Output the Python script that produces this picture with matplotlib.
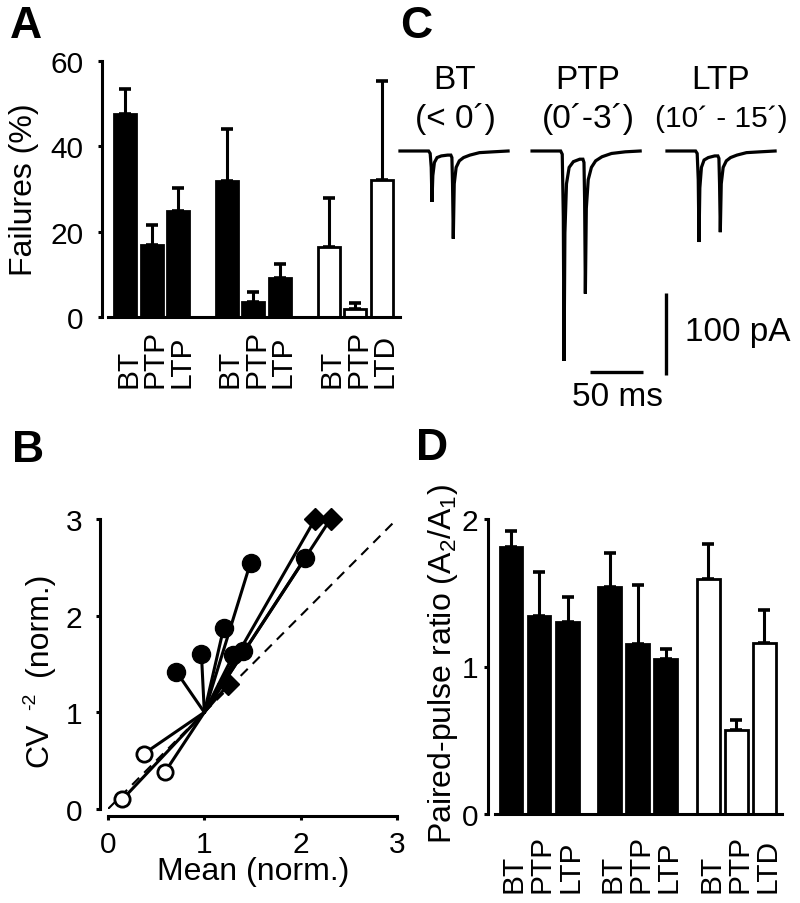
import matplotlib
matplotlib.use('Agg')
import matplotlib.pyplot as plt
from matplotlib.transforms import blended_transform_factory, offset_copy

plt.rcParams['font.family'] = ['Liberation Sans', 'DejaVu Sans']
plt.rcParams['mathtext.fontset'] = 'custom'
plt.rcParams['mathtext.rm'] = 'Liberation Sans'
FS = 23        # axis labels
FS_TICK = 21.5  # tick labels and bar labels
FS_C = 24      # panel C texts

# ---------------- data ----------------
bar_labels_A = ['BT', 'PTP', 'LTP', 'BT', 'PTP', 'LTP', 'BT', 'PTP', 'LTD']
fail_mean = [47.5, 16.8, 24.9, 31.8, 3.5, 9.1, 16.4, 1.9, 32.1]
fail_err = [5.9, 4.7, 5.3, 12.2, 2.3, 3.3, 11.5, 1.4, 23.2]
bar_filled = [True, True, True, True, True, True, False, False, False]

ppr_mean = [1.81, 1.34, 1.30, 1.54, 1.15, 1.05, 1.59, 0.57, 1.16]
ppr_err = [0.11, 0.30, 0.17, 0.23, 0.40, 0.07, 0.24, 0.07, 0.22]

# panel B: each experiment connects baseline (1,1) to the after-induction point
b_center = (1.0, 1.0)
b_filled_x = [0.71, 0.97, 1.20, 1.48, 1.30, 1.40, 2.05]
b_filled_y = [1.42, 1.60, 1.87, 2.55, 1.59, 1.63, 2.60]
b_diam_x = [1.25, 2.15, 2.31]
b_diam_y = [1.29, 3.00, 3.00]
b_open_x = [0.37, 0.59, 0.15]
b_open_y = [0.57, 0.38, 0.10]

# panel C: example traces (time ms, current pA), key points
trace_t = [0, 27, 28.5, 29.5, 30.2, 31, 32.5, 35, 39, 45, 48, 49, 49.6, 50.3,
           51.2, 53, 56, 60, 66, 75, 88, 102]
bt_i = [0, 0, -3, -20, -62, -30, -14, -8, -6, -5, -5, -8, -40, -107, -40,
        -20, -12, -8, -5, -2, -1, 0]
ptp_i = [0, 0, -4, -80, -256, -100, -40, -20, -13, -10, -10, -14, -60, -174,
         -70, -35, -20, -12, -7, -3, -1, 0]
ltp_i = [0, 0, -3, -35, -111, -45, -20, -11, -8, -6, -6, -9, -40, -99, -40,
         -20, -12, -8, -5, -2, -1, 0]
trace_start = [9.4, 134.0, 261.3]
trace_title = ['BT', 'PTP', 'LTP']
trace_sub = ['(< 0\u00b4)', '(0\u00b4-3\u00b4)', '(10\u00b4 - 15\u00b4)']
trace_sub_fs = [24, 24, 21.5]

# ---------------- figure ----------------
W, H = 800, 904
fig = plt.figure(figsize=(W / 100, H / 100), dpi=100)


def ax_px(l, t, r, b):
    return fig.add_axes([l / W, 1 - b / H, (r - l) / W, (b - t) / H])


def T(x, y, s, **kw):
    kw.setdefault('fontsize', FS)
    return fig.text(x / W, 1 - y / H, s, **kw)


def style_axis(ax, pad=10):
    for s in ['top', 'right']:
        ax.spines[s].set_visible(False)
    for s in ['left', 'bottom']:
        ax.spines[s].set_linewidth(2.2)
    ax.tick_params(direction='out', length=3, width=2.2, labelsize=FS_TICK,
                   pad=pad)


def bar_panel(ax, pos, means, errs, width):
    for p, m, e, f in zip(pos, means, errs, bar_filled):
        ax.errorbar([p], [m], yerr=[[0], [e]], fmt='none', ecolor='black',
                    elinewidth=2.2, capsize=4, capthick=2.6, zorder=1)
        ax.bar([p], [m], width=width, color='black' if f else 'white',
               edgecolor='black', linewidth=2, zorder=2)


def rot_labels(ax, pos, labels, ypix):
    trans = blended_transform_factory(ax.transData, fig.transFigure)
    trans = offset_copy(trans, fig=fig, x=7.7, y=0, units='points')
    for p, lab in zip(pos, labels):
        ax.text(p, 1 - ypix / H, lab, transform=trans, rotation=90,
                rotation_mode='anchor', ha='left', va='baseline',
                fontsize=FS_TICK)


# ---- Panel A ----
posA = [0, 1, 2, 3.83, 4.83, 5.83, 7.68, 8.68, 9.68]
axA = ax_px(108, 62, 400, 318)
style_axis(axA)
bar_panel(axA, posA, fail_mean, fail_err, 0.83)
axA.set_xlim(-0.66, 10.36)
axA.set_ylim(0, 60)
axA.set_yticks([0, 20, 40, 60])
axA.set_xticks([])
axA.spines['left'].set_position(('outward', 4.5))
axA.spines['left'].set_bounds(0, 60)
axA.spines['bottom'].set_zorder(3)
rot_labels(axA, posA, bar_labels_A, 388)
T(24, 190, 'Failures (%)', rotation=90, ha='center', va='center')

# ---- Panel D ----
posD = [0, 1, 2.02, 3.52, 4.52, 5.52, 7.05, 8.05, 9.05]
axD = ax_px(495, 520, 782, 815)
style_axis(axD, pad=4)
bar_panel(axD, posD, ppr_mean, ppr_err, 0.8)
axD.set_xlim(-0.57, 9.68)
axD.set_ylim(0, 2)
axD.set_yticks([0, 1, 2])
axD.set_xticks([])
axD.spines['left'].set_position(('outward', 5))
axD.spines['left'].set_bounds(0, 2)
axD.spines['bottom'].set_zorder(3)
rot_labels(axD, posD, bar_labels_A, 893)
T(443, 664, r'Paired-pulse ratio (A$_{\mathregular{2}}$/A$_{\mathregular{1}}$)',
  rotation=90, ha='center', va='center')

# ---- Panel B ----
axB = ax_px(108, 520, 397, 810)
style_axis(axB)
axB.tick_params(axis='x', pad=7)
axB.set_xlim(0, 3)
axB.set_ylim(0, 3)
axB.set_xticks([0, 1, 2, 3])
axB.set_yticks([0, 1, 2, 3])
axB.spines['left'].set_position(('outward', 5.5))
axB.spines['bottom'].set_position(('outward', 5))
axB.plot([0, 3], [0, 3], color='black', lw=1.5, dashes=(4.8, 3.4), zorder=1)
for xs, ys in [(b_filled_x, b_filled_y), (b_diam_x, b_diam_y), (b_open_x, b_open_y)]:
    for x, y in zip(xs, ys):
        axB.plot([b_center[0], x], [b_center[1], y], color='black', lw=2.2,
                 zorder=2, solid_capstyle='round')
axB.plot(b_filled_x, b_filled_y, 'o', ms=13, mfc='black', mec='black',
         zorder=3, clip_on=False)
axB.plot(b_diam_x, b_diam_y, 'D', ms=11, mfc='black', mec='black',
         zorder=3, clip_on=False)
axB.plot(b_open_x, b_open_y, 'o', ms=11, mfc='white', mec='black', mew=2,
         zorder=3, clip_on=False)
T(253, 872, 'Mean (norm.)', ha='center', va='center')
# y label with superscript: "CV -2 (norm.)"
T(47, 745, 'CV', rotation=90, rotation_mode='anchor', ha='center',
  va='baseline')
T(35, 701, '-2', rotation=90, rotation_mode='anchor', ha='center',
  va='baseline', fontsize=14)
T(47, 624, '(norm.)', rotation=90, rotation_mode='anchor', ha='center',
  va='baseline')

# ---- Panel C ----
axC = ax_px(390, 130, 800, 400)
axC.set_axis_off()
axC.set_xlim(0, 410 / 1.06)
axC.set_ylim(-248 / 0.82, 22 / 0.82)
for t0, cur in zip(trace_start, [bt_i, ptp_i, ltp_i]):
    axC.plot([t0 + t for t in trace_t], cur, color='black', lw=2.3,
             solid_joinstyle='miter')
# scale bars: 100 pA and 50 ms
axC.plot([260.4, 260.4], [-173, -273], color='black', lw=2.4,
         solid_capstyle='butt')
axC.plot([188.7, 238.7], [-269.5, -269.5], color='black', lw=2.4,
         solid_capstyle='butt')
T(685, 333, '100 pA', ha='left', va='center', fontsize=FS_C)
T(617, 398, '50 ms', ha='center', va='center', fontsize=FS_C)
for xc, a, b, fs in zip([455, 588, 721], trace_title, trace_sub, trace_sub_fs):
    T(xc, 81, a, ha='center', va='center', fontsize=FS_C)
    T(xc, 119, b, ha='center', va='center', fontsize=fs)

# panel letters
for x, y, s in [(10, 26, 'A'), (400, 26, 'C'), (12, 451, 'B'), (416, 449, 'D')]:
    T(x, y, s, fontsize=32, fontweight='bold', ha='left', va='center')

fig.savefig('out.png', dpi=100)
